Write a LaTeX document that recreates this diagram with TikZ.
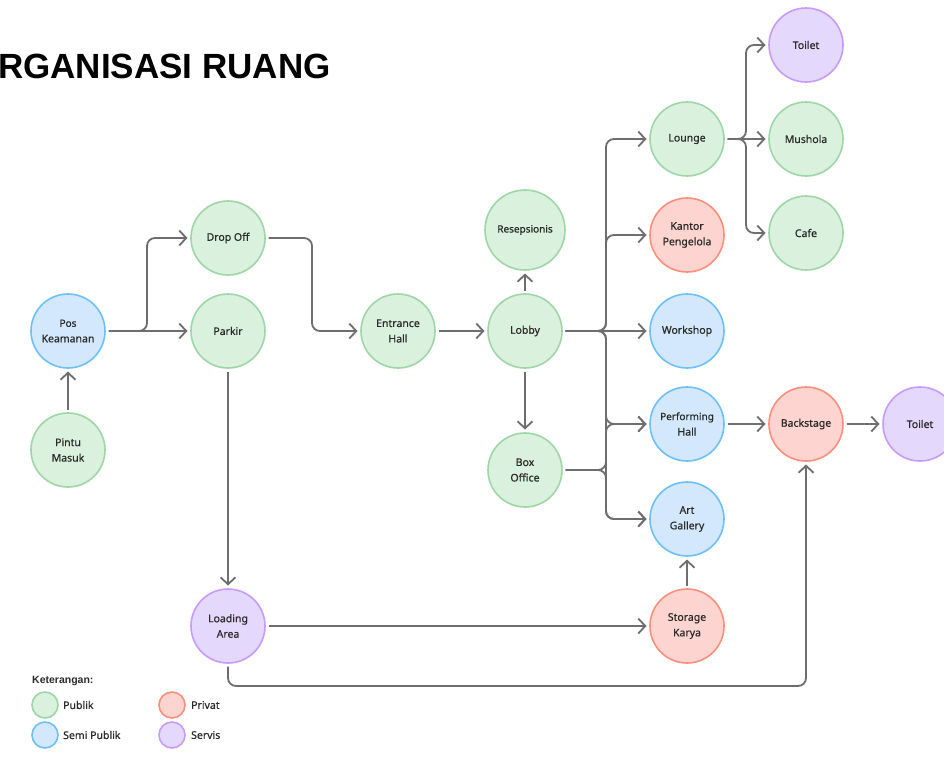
\documentclass[tikz,border=0pt]{standalone}
\usepackage{fontspec}
\setmainfont{Noto Sans}[FakeBold=0.6]
\newfontfamily\titlefont{Liberation Sans}
\usetikzlibrary{arrows.meta}
\definecolor{pubF}{HTML}{DAF1DD}
\definecolor{pubD}{HTML}{9ED6A7}
\definecolor{semF}{HTML}{D3E8FC}
\definecolor{semD}{HTML}{6CC0FF}
\definecolor{priF}{HTML}{FDD4CF}
\definecolor{priD}{HTML}{FF8E7B}
\definecolor{serF}{HTML}{E5D8FD}
\definecolor{serD}{HTML}{C79AFF}
\definecolor{lineC}{HTML}{6E6E6E}
\definecolor{txt}{HTML}{2A2A2A}
\tikzset{
  rnode/.style={circle, minimum size=74pt, inner sep=0pt, outer sep=3.5pt, line width=1.6pt, align=center, text=txt, font=\fontsize{10.5}{15.5}\selectfont},
  pub/.style={rnode, fill=pubF, draw=pubD},
  sem/.style={rnode, fill=semF, draw=semD},
  pri/.style={rnode, fill=priF, draw=priD},
  ser/.style={rnode, fill=serF, draw=serD},
  conn/.style={draw=lineC, line width=1.8pt, rounded corners=8pt, -{Straight Barb[length=7pt,width=15pt,line width=1.8pt]}},
  legc/.style={circle, minimum size=26pt, inner sep=0pt, line width=1.6pt},
  legt/.style={anchor=west, inner sep=0pt, text=txt, font=\fontsize{10.5}{12}\selectfont},
}
\begin{document}
\begin{tikzpicture}[x=1pt,y=-1pt]
\fill[white] (0,0) rectangle (944,756);
\useasboundingbox (0,0) rectangle (944,756);
% title
\node[anchor=base west, inner sep=0pt, font=\titlefont\bfseries\fontsize{35}{35}\selectfont] (title) at (-2,78) {RGANISASI RUANG};
% nodes
\node[sem] (pos) at (68,331) {\fontsize{10}{15}\selectfont Pos\\Keamanan};
\node[pub] (pintu) at (68,450) {Pintu\\Masuk};
\node[pub] (drop) at (228,238) {Drop Off};
\node[pub] (parkir) at (228,331) {Parkir};
\node[pub] (entr) at (398,331) {Entrance\\Hall};
\node[pub] (lobby) at (525,331) {Lobby};
\node[pub, minimum size=80pt] (resep) at (525,230) {\fontsize{10}{15}\selectfont Resepsionis};
\node[pub] (box) at (525,470) {Box\\Office};
\node[pub] (lounge) at (687,139) {Lounge};
\node[pri] (kantor) at (687,235) {Kantor\\Pengelola};
\node[sem] (work) at (687,331) {Workshop};
\node[sem] (perf) at (687,424) {\fontsize{10}{15.5}\selectfont Performing\\Hall};
\node[sem] (art) at (687,519) {Art\\Gallery};
\node[pri] (stor) at (687,626) {Storage\\Karya};
\node[ser] (load) at (228,626) {Loading\\Area};
\node[pri] (back) at (806,424) {Backstage};
\node[ser] (toil2) at (920,424) {Toilet};
\node[ser] (toil1) at (806,45) {Toilet};
\node[pub] (mush) at (806,139) {Mushola};
\node[pub] (cafe) at (806,233) {Cafe};
% junction coordinates
\coordinate (jpos) at (147,331);
\coordinate (jdrop) at (312,238);
\coordinate (jlob) at (606,331);
\coordinate (jbox) at (606,470);
\coordinate (jlou) at (746,139);
\coordinate (jload) at (228,686);
% connectors
\draw[conn] (pintu) -- (pos);
\draw[conn] (pos) -- (parkir);
\draw[conn] (pos.east) -- (jpos) |- (drop.west);
\draw[conn] (drop.east) -- (jdrop) |- (entr.west);
\draw[conn] (entr) -- (lobby);
\draw[conn] (lobby) -- (resep);
\draw[conn] (lobby) -- (box);
\draw[conn] (lobby.east) -- (jlob) |- (lounge.west);
\draw[conn] (lobby.east) -- (jlob) |- (kantor.west);
\draw[conn] (lobby) -- (work);
\draw[conn] (lobby.east) -- (jlob) |- (perf.west);
\draw[conn] (lobby.east) -- (jlob) |- (art.west);
\draw[conn] (box.east) -- (jbox) |- (perf.west);
\draw[conn] (box.east) -- (jbox) |- (art.west);
\draw[conn] (lounge.east) -- (jlou) |- (toil1.west);
\draw[conn] (lounge) -- (mush);
\draw[conn] (lounge.east) -- (jlou) |- (cafe.west);
\draw[conn] (parkir) -- (load);
\draw[conn] (load) -- (stor);
\draw[conn] (stor) -- (art);
\draw[conn] (load.south) -- (jload) -| (back.south);
\draw[conn] (perf) -- (back);
\draw[conn] (back) -- (toil2);
% legend
\node[anchor=west, inner sep=0pt, text=txt, font=\titlefont\bfseries\fontsize{10.5}{12}\selectfont] (ket) at (32,681) {Keterangan:};
\node[legc, fill=pubF, draw=pubD] (lpub) at (45,705) {};
\node[legc, fill=semF, draw=semD] (lsem) at (45,735) {};
\node[legc, fill=priF, draw=priD] (lpri) at (172,705) {};
\node[legc, fill=serF, draw=serD] (lser) at (172,735) {};
\node[legt] (tpub) at (63,705) {Publik};
\node[legt] (tsem) at (63,735) {Semi Publik};
\node[legt] (tpri) at (191,705) {Privat};
\node[legt] (tser) at (191,735) {Servis};
\end{tikzpicture}
\end{document}
